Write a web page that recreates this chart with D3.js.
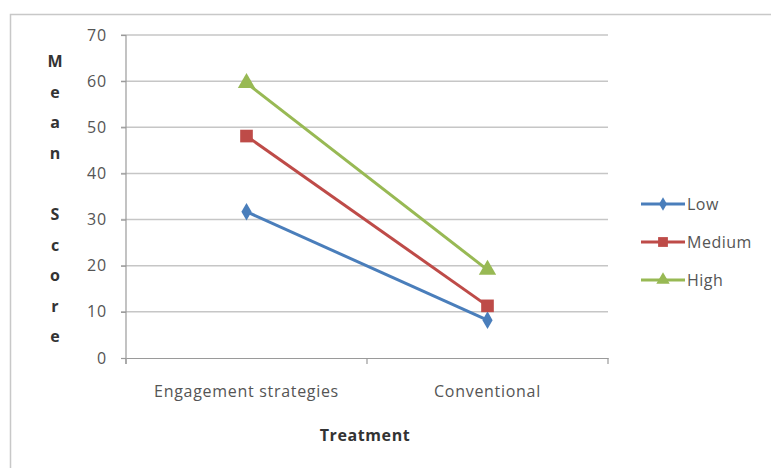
<!DOCTYPE html>
<html>
<head>
<meta charset="utf-8">
<script src="https://cdn.jsdelivr.net/npm/d3@7"></script>
<style>
  body { margin: 0; background: #fff; }
  text { font-family: "Open Sans", "Noto Sans", sans-serif; }
</style>
</head>
<body>
<svg id="chart" width="771" height="468"></svg>
<script>
// Data
const categories = ["Engagement strategies", "Conventional"];
const seriesNames = ["Low", "Medium", "High"];
const lowValues = [31.7, 8.2];
const mediumValues = [48.1, 11.3];
const highValues = [59.6, 19.1];
const yTicks = [0, 10, 20, 30, 40, 50, 60, 70];
const yTitle = "Mean Score";
const xTitle = "Treatment";

const series = [
    { name: seriesNames[0], values: lowValues, color: "#4a7ebb", shape: d3.symbolDiamond, size: 90 },
    { name: seriesNames[1], values: mediumValues, color: "#be4b48", shape: d3.symbolSquare, size: 160 },
    { name: seriesNames[2], values: highValues, color: "#98b954", shape: d3.symbolTriangle, size: 130 }
];

const svg = d3.select("#chart");

// Outer frame
svg.append("rect")
    .attr("x", 10.5).attr("y", 14.5)
    .attr("width", 800).attr("height", 500)
    .attr("fill", "none")
    .attr("stroke", "#c8c8c8")
    .attr("stroke-width", 1.5);

const margin = { top: 35, left: 126 };
const width = 482;
const height = 323;

const chart = svg.append("g")
    .attr("transform", `translate(${margin.left},${margin.top})`);

// Scales
const x = d3.scaleBand().domain(categories).range([0, width]);
const y = d3.scaleLinear().domain([0, 70]).range([height, 0]);

// Gridlines
chart.append("g")
    .selectAll("line")
    .data(yTicks.filter(d => d > 0))
    .join("line")
    .attr("x1", -5).attr("x2", width)
    .attr("y1", d => y(d)).attr("y2", d => y(d))
    .attr("stroke", "#c6c6c6")
    .attr("stroke-width", 1.5);

// Y axis
const yAxis = chart.append("g")
    .call(d3.axisLeft(y).tickValues(yTicks).tickSize(5).tickPadding(14));
yAxis.select(".domain").attr("stroke", "#9a9a9a").attr("stroke-width", 1.2)
    .attr("d", `M0,0V${height + 6}`);
yAxis.selectAll(".tick line").attr("stroke", "#9a9a9a").attr("stroke-width", 1.2);
yAxis.selectAll(".tick text").attr("fill", "#555")
    .style("font-size", "16px").style("letter-spacing", "0.8px");

// X axis
const xAxis = chart.append("g")
    .attr("transform", `translate(0,${height})`)
    .call(d3.axisBottom(x).tickSize(0).tickPadding(28));
xAxis.select(".domain").attr("stroke", "#9a9a9a").attr("stroke-width", 1.2);
xAxis.selectAll(".tick text").attr("fill", "#555")
    .style("font-size", "16px").style("letter-spacing", "0.7px");
xAxis.selectAll(".sep")
    .data([0, 1, 2])
    .join("line")
    .attr("class", "sep")
    .attr("x1", d => d * x.step()).attr("x2", d => d * x.step())
    .attr("y1", 0).attr("y2", 6)
    .attr("stroke", "#9a9a9a").attr("stroke-width", 1.2);

// Axis titles
chart.append("text")
    .attr("x", width / 2 - 2)
    .attr("y", height + 83)
    .attr("text-anchor", "middle")
    .attr("fill", "#333")
    .style("font-size", "16px")
    .style("font-weight", "bold")
    .style("letter-spacing", "0.6px")
    .text(xTitle);

svg.append("g")
    .selectAll("text")
    .data(yTitle.split(""))
    .join("text")
    .attr("x", 55)
    .attr("y", (d, i) => 67 + i * 30.6)
    .attr("text-anchor", "middle")
    .attr("fill", "#333")
    .style("font-size", "16px")
    .style("font-weight", "bold")
    .text(d => d);

// Lines and markers
const cx = c => x(c) + x.bandwidth() / 2;
const line = d3.line()
    .x((d, i) => cx(categories[i]))
    .y(d => y(d));

const groups = chart.selectAll(".series")
    .data(series)
    .join("g")
    .attr("class", "series");

groups.append("path")
    .attr("d", d => line(d.values))
    .attr("fill", "none")
    .attr("stroke", d => d.color)
    .attr("stroke-width", 3);

groups.each(function (s) {
    d3.select(this).selectAll(".pt")
        .data(s.values)
        .join("path")
        .attr("class", "pt")
        .attr("transform", (d, i) => `translate(${cx(categories[i])},${y(d)})`)
        .attr("d", d3.symbol().type(s.shape).size(s.size))
        .attr("fill", s.color);
});

// Legend
const legend = svg.append("g")
    .attr("transform", "translate(641,204)");

const items = legend.selectAll("g")
    .data(series)
    .join("g")
    .attr("transform", (d, i) => `translate(0,${i * 38})`);

items.append("line")
    .attr("x1", 0).attr("x2", 44)
    .attr("stroke", d => d.color)
    .attr("stroke-width", 3);

items.append("path")
    .attr("transform", "translate(22,0)")
    .attr("d", d => d3.symbol().type(d.shape).size(d.size * 0.6)())
    .attr("fill", d => d.color);

items.append("text")
    .attr("x", 46)
    .attr("y", 5.5)
    .attr("fill", "#555")
    .style("font-size", "16px")
    .style("letter-spacing", "0.5px")
    .text(d => d.name);
</script>
</body>
</html>
